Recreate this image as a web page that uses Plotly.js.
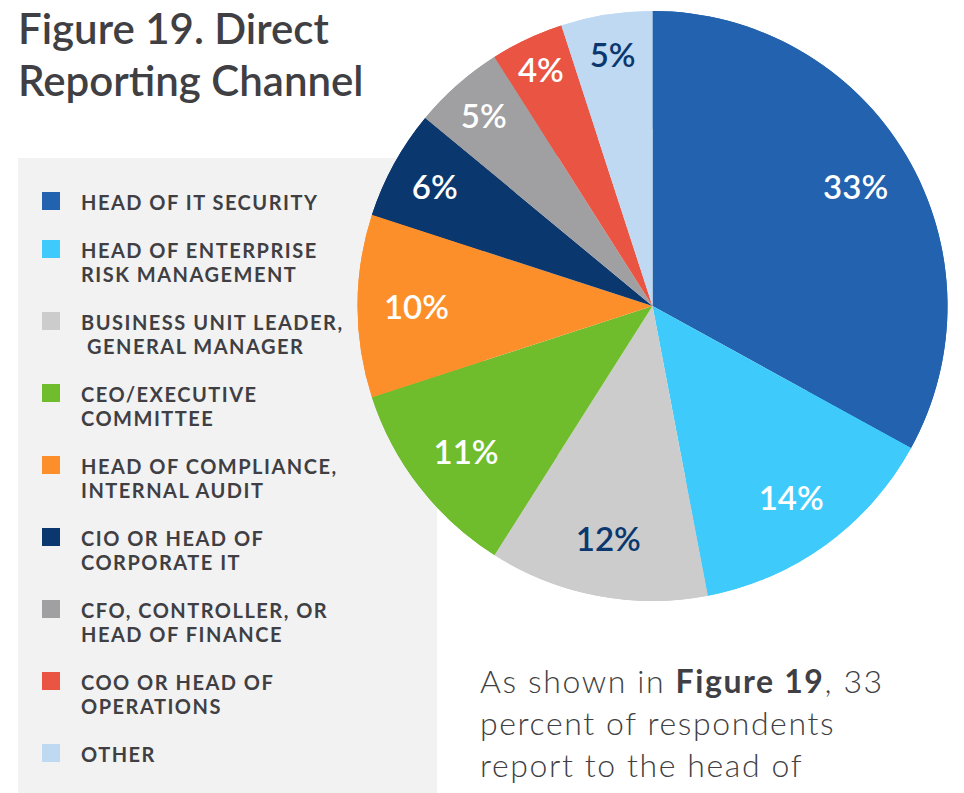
<!DOCTYPE html>
<html>
<head>
<meta charset="utf-8">
<script src="https://cdn.plot.ly/plotly-3.0.1.min.js"></script>
<style>
html,body{margin:0;padding:0;background:#fff;}
#chart{width:964px;height:793px;}
</style>
</head>
<body>
<div id="chart"></div>
<script>
// ---- data ----
var categories = [
  "HEAD OF IT SECURITY",
  "HEAD OF ENTERPRISE\nRISK MANAGEMENT",
  "BUSINESS UNIT LEADER,\n GENERAL MANAGER",
  "CEO/EXECUTIVE\nCOMMITTEE",
  "HEAD OF COMPLIANCE,\nINTERNAL AUDIT",
  "CIO OR HEAD OF\nCORPORATE IT",
  "CFO, CONTROLLER, OR\nHEAD OF FINANCE",
  "COO OR HEAD OF\nOPERATIONS",
  "OTHER"
];
var values = [33, 14, 12, 11, 10, 6, 5, 4, 5];
var colors = ["#2262ae", "#3ecbfb", "#cccccc", "#6fbd2c", "#fd8f2b", "#0a376e", "#a0a0a2", "#e95443", "#bfd9f2"];
var labelColors = ["#ffffff", "#ffffff", "#0a376e", "#ffffff", "#ffffff", "#ffffff", "#ffffff", "#ffffff", "#0a376e"];
var titleLines = ["Figure 19. Direct", "Reporting Channel"];
var bodyLines = ["As shown in <b>Figure 19</b>, 33", "percent of respondents", "report to the head of"];

// ---- layout helpers ----
var W = 964, H = 793;
function px(x){ return x / W; }
function py(y){ return 1 - y / H; }
var textColor = "#3f3f44";

var annotations = [];
var shapes = [];

// legend background
shapes.push({type:"rect", xref:"paper", yref:"paper", layer:"below",
  x0:px(18), x1:px(437), y0:py(793), y1:py(158),
  fillcolor:"#f2f2f2", line:{width:0}});

var legendCount = 0;
var yc = 201;
categories.forEach(function(cat, i){
  shapes.push({type:"rect", xref:"paper", yref:"paper",
    x0:px(42), x1:px(60), y0:py(yc + 9), y1:py(yc - 9),
    fillcolor:colors[i], line:{width:0}});
  var lines = cat.split("\n");
  lines.forEach(function(line, j){
    var lead = line.charAt(0) === " " ? 6 : 0;
    annotations.push({xref:"paper", yref:"paper", x:px(79 + lead), y:py(yc + 24 * j + 1),
      xanchor:"left", yanchor:"middle", align:"left", showarrow:false,
      text:line.trim(), font:{family:"Lato", size:20, weight:700, color:textColor}});
    legendCount++;
  });
  yc += 24 * (lines.length - 1) + 48;
});

titleLines.forEach(function(t, j){
  annotations.push({xref:"paper", yref:"paper", x:px(16), y:py(28 + 52 * j),
    xanchor:"left", yanchor:"middle", align:"left", showarrow:false,
    text:t, font:{family:"Lato", size:42, weight:600, color:textColor}});
});

var bodyStart = annotations.length;
bodyLines.forEach(function(t, j){
  annotations.push({xref:"paper", yref:"paper", x:px(478), y:py(680 + 42 * j),
    xanchor:"left", yanchor:"middle", align:"left", showarrow:false,
    text:t, font:{family:"Lato", size:32, weight:300, color:textColor}});
});

var base = {
  type:"pie",
  values:values,
  labels:categories.map(function(c){ return c.replace("\n", " "); }),
  marker:{colors:colors, line:{width:0}},
  sort:false,
  direction:"clockwise",
  rotation:0,
  hoverinfo:"none",
  domain:{x:[px(357), px(948)], y:[py(601), py(11)]},
  showlegend:false
};
var fill = Object.assign({}, base, {textinfo:"none"});
var ring = Object.assign({}, base, {
  hole:0.6,
  texttemplate:"%{value}%",
  textposition:"inside",
  insidetextorientation:"horizontal",
  insidetextfont:{family:"Lato", size:33, weight:600, color:labelColors}
});

var layout = {
  width:W, height:H,
  margin:{l:0, r:0, t:0, b:0},
  paper_bgcolor:"#ffffff",
  showlegend:false,
  uniformtext:{mode:"show", minsize:33},
  shapes:shapes,
  annotations:annotations
};

Plotly.newPlot("chart", [fill, ring], layout, {staticPlot:true}).then(function(){
  var texts = document.querySelectorAll("#chart .annotation-text");
  for (var k = 0; k < texts.length; k++) {
    if (k < legendCount) texts[k].style.letterSpacing = "1.5px";
    else if (k >= bodyStart) texts[k].style.letterSpacing = "1.6px";
  }
});
</script>
</body>
</html>
